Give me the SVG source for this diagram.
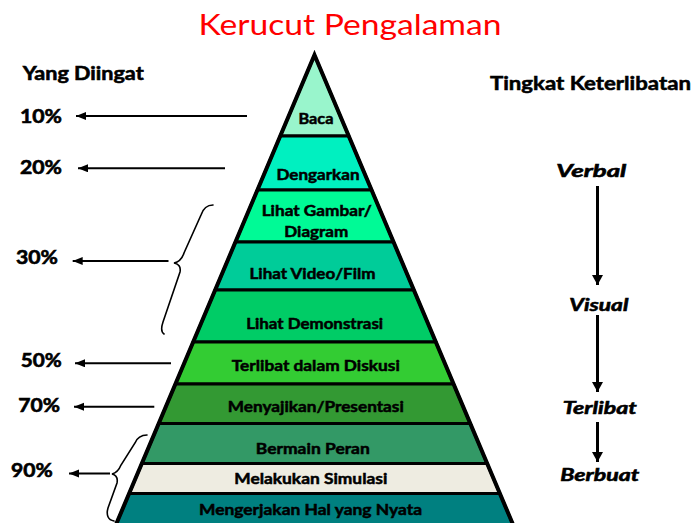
<svg xmlns="http://www.w3.org/2000/svg" width="691" height="523" viewBox="0 0 691 523">
<style>
.lay{stroke:#000;stroke-width:3;stroke-linejoin:miter}
.lbl{font-family:Lato,"Open Sans",sans-serif;font-weight:bold;font-size:15px;fill:#000;stroke:#000;stroke-width:0.5;text-anchor:middle}
.pct{font-family:Lato,"Open Sans",sans-serif;font-weight:bold;font-size:18.5px;fill:#000;stroke:#000;stroke-width:0.6}
.hdr{font-family:Lato,"Open Sans",sans-serif;font-weight:bold;fill:#000;stroke:#000;stroke-width:0.55}
.lvl{font-family:Lato,"Open Sans",sans-serif;font-weight:bold;font-style:italic;font-size:16.5px;fill:#000;stroke:#000;stroke-width:0.55;text-anchor:middle}
.arr{stroke:#000;stroke-width:2;fill:none}
.varr{stroke:#000;stroke-width:3;fill:none}
.brace{stroke:#000;stroke-width:1.6;fill:none;stroke-linecap:round}
</style>
<defs>
<marker id="ahL" markerUnits="userSpaceOnUse" markerWidth="12" markerHeight="10" refX="10" refY="4" orient="auto">
<path d="M0,0 L10,4 L0,8 Z" fill="#000"/>
</marker>
<marker id="ahV" markerUnits="userSpaceOnUse" markerWidth="12" markerHeight="12" refX="10" refY="5.5" orient="auto">
<path d="M0,0 L10,5.5 L0,11 Z" fill="#000"/>
</marker>
</defs>
<rect width="691" height="523" fill="#fff"/>
<g id="title">
<text x="350" y="35" font-family="Lato,'Open Sans',sans-serif" font-size="29" fill="#FF0000" text-anchor="middle" textLength="303" lengthAdjust="spacingAndGlyphs">Kerucut Pengalaman</text>
</g>
<g id="pyramid">
<g id="layer-baca"><polygon class="lay" fill="#99F5CC" points="314.5,55 348.7,136 280.3,136"/><text class="lbl" x="316" y="124" textLength="35" lengthAdjust="spacingAndGlyphs">Baca</text></g>
<g id="layer-dengarkan"><polygon class="lay" fill="#00F0C0" points="280.3,136 348.7,136 371.6,190 257.4,190"/><text class="lbl" x="318" y="180" textLength="83" lengthAdjust="spacingAndGlyphs">Dengarkan</text></g>
<g id="layer-gambar"><polygon class="lay" fill="#00FA96" points="257.4,190 371.6,190 393.5,242 235.5,242"/><text class="lbl" x="316.7" y="216" textLength="110" lengthAdjust="spacingAndGlyphs">Lihat Gambar/</text><text class="lbl" x="316.3" y="237" textLength="64" lengthAdjust="spacingAndGlyphs">Diagram</text></g>
<g id="layer-video"><polygon class="lay" fill="#00CC99" points="235.5,242 393.5,242 413.8,290 215.2,290"/><text class="lbl" x="312.5" y="279" textLength="126" lengthAdjust="spacingAndGlyphs">Lihat Video/Film</text></g>
<g id="layer-demonstrasi"><polygon class="lay" fill="#00CC66" points="215.2,290 413.8,290 435.8,342 193.2,342"/><text class="lbl" x="314.7" y="328.5" textLength="137" lengthAdjust="spacingAndGlyphs">Lihat Demonstrasi</text></g>
<g id="layer-diskusi"><polygon class="lay" fill="#33CC33" points="193.2,342 435.8,342 453.5,384 175.5,384"/><text class="lbl" x="315.8" y="371" textLength="168" lengthAdjust="spacingAndGlyphs">Terlibat dalam Diskusi</text></g>
<g id="layer-presentasi"><polygon class="lay" fill="#339933" points="175.5,384 453.5,384 470.2,423.5 158.8,423.5"/><text class="lbl" x="315.8" y="411.5" textLength="176" lengthAdjust="spacingAndGlyphs">Menyajikan/Presentasi</text></g>
<g id="layer-peran"><polygon class="lay" fill="#339966" points="158.8,423.5 470.2,423.5 487.1,463.5 141.9,463.5"/><text class="lbl" x="312.8" y="454" textLength="114" lengthAdjust="spacingAndGlyphs">Bermain Peran</text></g>
<g id="layer-simulasi"><polygon class="lay" fill="#EEECE1" points="141.9,463.5 487.1,463.5 499.8,493.5 129.2,493.5"/><text class="lbl" x="310.8" y="484" textLength="153" lengthAdjust="spacingAndGlyphs">Melakukan Simulasi</text></g>
<g id="layer-nyata"><polygon class="lay" fill="#008080" points="129.2,493.5 499.8,493.5 517,534 112,534"/><text class="lbl" x="310.5" y="515" textLength="223" lengthAdjust="spacingAndGlyphs">Mengerjakan Hal yang Nyata</text></g>
<polygon points="314.5,55 517,534 112,534" fill="none" stroke="#000" stroke-width="4" stroke-linejoin="miter"/>
</g>
<g id="left-labels">
<text id="hdr-diingat" class="hdr" x="22.7" y="79.5" font-size="18" textLength="121" lengthAdjust="spacingAndGlyphs">Yang Diingat</text>
<text id="p10" class="pct" x="20" y="122.7" textLength="42" lengthAdjust="spacingAndGlyphs">10%</text>
<text id="p20" class="pct" x="20" y="174" textLength="42" lengthAdjust="spacingAndGlyphs">20%</text>
<text id="p30" class="pct" x="16" y="264" textLength="42" lengthAdjust="spacingAndGlyphs">30%</text>
<text id="p50" class="pct" x="20.7" y="366.7" textLength="41" lengthAdjust="spacingAndGlyphs">50%</text>
<text id="p70" class="pct" x="18.3" y="411.7" textLength="41.7" lengthAdjust="spacingAndGlyphs">70%</text>
<text id="p90" class="pct" x="11" y="476.7" textLength="41.7" lengthAdjust="spacingAndGlyphs">90%</text>
</g>
<g id="right-labels">
<text id="hdr-keterlibatan" class="hdr" x="490" y="89.5" font-size="19.5" textLength="201" lengthAdjust="spacingAndGlyphs">Tingkat Keterlibatan</text>
<text id="verbal" class="lvl" x="591.3" y="176.7" textLength="70" lengthAdjust="spacingAndGlyphs">Verbal</text>
<text id="visual" class="lvl" x="598.8" y="310.7" textLength="59" lengthAdjust="spacingAndGlyphs">Visual</text>
<text id="terlibat" class="lvl" x="599.7" y="414" textLength="74" lengthAdjust="spacingAndGlyphs">Terlibat</text>
<text id="berbuat" class="lvl" x="599.7" y="480.7" textLength="79" lengthAdjust="spacingAndGlyphs">Berbuat</text>
</g>
<g id="connectors">
<line class="arr" x1="247" y1="116" x2="76" y2="116" marker-end="url(#ahL)"/>
<line class="arr" x1="225" y1="168.3" x2="78" y2="168.3" marker-end="url(#ahL)"/>
<line class="arr" x1="168.5" y1="261" x2="72.7" y2="261" marker-end="url(#ahL)"/>
<line class="arr" x1="171" y1="363.3" x2="75" y2="363.3" marker-end="url(#ahL)"/>
<line class="arr" x1="154.3" y1="406.7" x2="74" y2="406.7" marker-end="url(#ahL)"/>
<line class="arr" x1="110" y1="473.5" x2="69" y2="473.5" marker-end="url(#ahL)"/>
<path class="brace" d="M213,205 C207,205 203,209 201,215 L184,253 C182,259 179,262 174,263 C179,264 181,267 180,272 L163,322 C161,328 161,332 164,334"/>
<path class="brace" d="M147,435 C141,435 137,438 135,443 L121,465 C119,470 116,473 112,474 C116,475 118,478 117,483 L108,508 C106,515 108,520 114,521"/>
<line class="varr" x1="597.5" y1="186" x2="597.5" y2="285" marker-end="url(#ahV)"/>
<line class="varr" x1="597.5" y1="315" x2="597.5" y2="392" marker-end="url(#ahV)"/>
<line class="varr" x1="597.5" y1="422" x2="597.5" y2="462" marker-end="url(#ahV)"/>
</g>
</svg>
